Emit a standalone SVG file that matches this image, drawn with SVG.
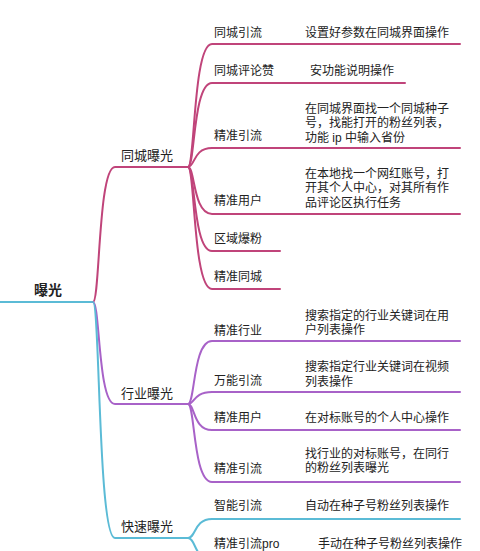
<svg xmlns="http://www.w3.org/2000/svg" width="480" height="551" viewBox="0 0 480 551">
<style>
text{font-family:"Liberation Sans","Noto Sans CJK SC",sans-serif;fill:#222}
.l{font-size:12px}
.d{font-size:12px}
.m{font-size:13px}
.r{font-size:14px;font-weight:bold}
.c{fill:none;stroke-width:2;stroke-linecap:round}
.pk{stroke:#c0447a}
.pu{stroke:#a862c8}
.bl{stroke:#5bbbd6}
</style>
<rect width="480" height="551" fill="#fff"/>
<g id="connectors">
<path class="c bl" d="M0,302 L93,302"/>
<path class="c pk" d="M93,302 C100,302 98,167 115,167 L188,167"/>
<path class="c pu" d="M93,302 C100,302 98,404 115,404 L188,404"/>
<path class="c bl" d="M93,302 C100,302 98,538 115,538 L188,538"/>
<path class="c pk" d="M188,167 C195,167 193,44 212,44 L460,44"/>
<path class="c pk" d="M188,167 C195,167 193,83 212,83 L405,83"/>
<path class="c pk" d="M188,167 C195,167 193,148 212,148 L460,148"/>
<path class="c pk" d="M188,167 C195,167 193,214 212,214 L460,214"/>
<path class="c pk" d="M188,167 C195,167 193,251 212,251 L280,251"/>
<path class="c pk" d="M188,167 C195,167 193,289 212,289 L280,289"/>
<path class="c pu" d="M188,404 C195,404 193,341 212,341 L460,341"/>
<path class="c pu" d="M188,404 C195,404 193,392 212,392 L460,392"/>
<path class="c pu" d="M188,404 C195,404 193,430 212,430 L460,430"/>
<path class="c pu" d="M188,404 C195,404 193,482 212,482 L460,482"/>
<path class="c bl" d="M188,538 C196,538 194,519 212,519 L460,519"/>
<path class="c bl" d="M188,538 C196,538 194,560 212,560 L460,560"/>
</g>
<g id="root"><text class="r" x="34" y="295">曝光</text></g>
<g id="tongcheng"><text class="m" x="121" y="159.5">同城曝光</text></g>
<g id="hangye"><text class="m" x="121" y="397.5">行业曝光</text></g>
<g id="kuaisu"><text class="m" x="121" y="531">快速曝光</text></g>
<g id="n1"><text class="l" x="214" y="36.5">同城引流</text><text class="d" x="305" y="36.5">设置好参数在同城界面操作</text></g>
<g id="n2"><text class="l" x="214" y="74.5">同城评论赞</text><text class="d" x="310" y="74.5">安功能说明操作</text></g>
<g id="n3"><text class="l" x="214" y="140">精准引流</text><text class="d" y="112.5"><tspan x="305">在同城界面找一个同城种子</tspan><tspan x="305" dy="14.5">号，找能打开的粉丝列表，</tspan><tspan x="305" dy="14.5">功能 ip 中输入省份</tspan></text></g>
<g id="n4"><text class="l" x="214" y="205">精准用户</text><text class="d" y="177.5"><tspan x="305">在本地找一个网红账号，打</tspan><tspan x="305" dy="14.5">开其个人中心，对其所有作</tspan><tspan x="305" dy="14.5">品评论区执行任务</tspan></text></g>
<g id="n5"><text class="l" x="214" y="243">区域爆粉</text></g>
<g id="n6"><text class="l" x="214" y="280.5">精准同城</text></g>
<g id="n7"><text class="l" x="214" y="335">精准行业</text><text class="d" y="319.5"><tspan x="305">搜索指定的行业关键词在用</tspan><tspan x="305" dy="14.5">户列表操作</tspan></text></g>
<g id="n8"><text class="l" x="214" y="385">万能引流</text><text class="d" y="371"><tspan x="305">搜索指定行业关键词在视频</tspan><tspan x="305" dy="14.5">列表操作</tspan></text></g>
<g id="n9"><text class="l" x="214" y="422">精准用户</text><text class="d" x="305" y="422">在对标账号的个人中心操作</text></g>
<g id="n10"><text class="l" x="214" y="473">精准引流</text><text class="d" y="457.5"><tspan x="305">找行业的对标账号，在同行</tspan><tspan x="305" dy="14.5">的粉丝列表曝光</tspan></text></g>
<g id="n11"><text class="l" x="214" y="510">智能引流</text><text class="d" x="305" y="510">自动在种子号粉丝列表操作</text></g>
<g id="n12"><text class="l" x="214" y="548">精准引流pro</text><text class="d" x="318" y="548">手动在种子号粉丝列表操作</text></g>
</svg>
